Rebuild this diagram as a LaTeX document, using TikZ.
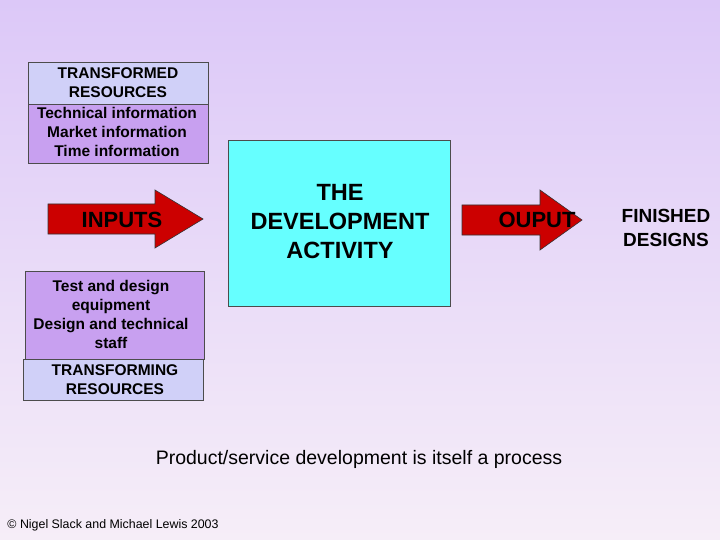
\documentclass[tikz,border=0pt]{standalone}
\usepackage{fontspec}
\setmainfont{Liberation Sans}
\definecolor{bgtop}{HTML}{DCC8F8}
\definecolor{bgbot}{HTML}{F6EEF8}
\definecolor{hdr}{HTML}{D0D0F8}
\definecolor{lst}{HTML}{C8A0F0}
\definecolor{cy}{HTML}{66FFFF}
\definecolor{ar}{HTML}{CC0000}
\begin{document}
\begin{tikzpicture}[x=1pt,y=-1pt,
 box/.style={draw=black!70,line width=0.6pt},
 arr/.style={draw=black!80,fill=ar,line width=0.6pt},
 txt/.style={align=center,font=\fontsize{15.5}{19}\selectfont\bfseries}]
\shade[top color=bgtop,bottom color=bgbot] (0,0) rectangle (720,540);
\useasboundingbox (0,0) rectangle (720,540);
\fill[hdr,box] (28,62) rectangle (208,104);
\node[txt] (th) at (118,83) {TRANSFORMED\\RESOURCES};
\fill[lst,box] (28,104) rectangle (208,163);
\node[txt] (tl) at (117,132) {Technical information\\Market information\\Time information};
\draw[arr] (48,204) -- (155,204) -- (155,190) -- (203,219) -- (155,248) -- (155,234) -- (48,234) -- cycle;
\node[font=\fontsize{22}{24}\selectfont\bfseries] (in) at (122,220) {INPUTS};
\fill[lst,box] (25,271) rectangle (204,359);
\node[txt] (tt) at (111,314) {Test and design\\equipment\\Design and technical\\staff};
\fill[hdr,box] (23,359) rectangle (203,400);
\node[txt] (tr) at (115,380) {TRANSFORMING\\RESOURCES};
\fill[cy,box] (228,140) rectangle (450,306);
\node[font=\fontsize{23.5}{29}\selectfont\bfseries,align=center] (c) at (340,222) {THE\\DEVELOPMENT\\ACTIVITY};
\draw[arr] (462,205) -- (540,205) -- (540,190) -- (582,220) -- (540,250) -- (540,235) -- (462,235) -- cycle;
\node[font=\fontsize{22}{24}\selectfont\bfseries] (out) at (537,220) {OUPUT};
\node[font=\fontsize{19}{24}\selectfont\bfseries,align=center] (fd) at (666,228) {FINISHED\\DESIGNS};
\node[font=\fontsize{19.5}{22}\selectfont] (cap) at (359,459) {Product/service development is itself a process};
\node[font=\fontsize{12.4}{14}\selectfont] (cr) at (113,525) {© Nigel Slack and Michael Lewis 2003};
\end{tikzpicture}
\end{document}
